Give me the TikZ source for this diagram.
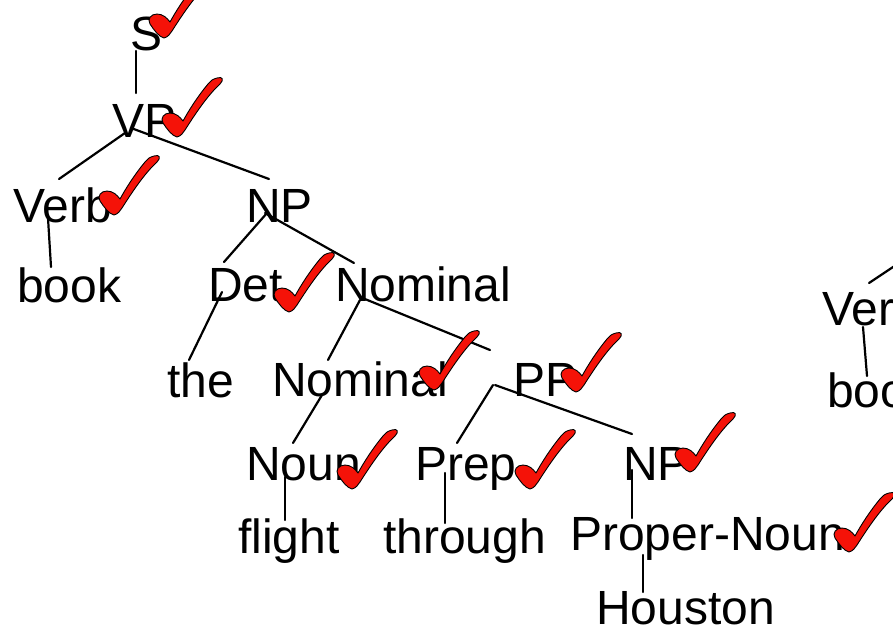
\documentclass[tikz,border=0pt]{standalone}
\usepackage{fontspec}
\setmainfont{Liberation Sans}
\usetikzlibrary{calc}
\definecolor{ckred}{RGB}{245,18,8}
\begin{document}
\begin{tikzpicture}[x=1pt,y=-1pt,
  lbl/.style={anchor=base west,inner sep=0pt,outer sep=0pt,font=\fontsize{48}{56}\selectfont},
  edge/.style={line width=2.2pt,line cap=round},
  checkmk/.pic={\filldraw[fill=ckred,draw=black,line width=0.9pt,line join=round]
    (0,1) .. controls (4,0) and (6,-3) .. (8,-6)
    .. controls (20,-25) and (32,-42) .. (43,-52)
    .. controls (47,-56) and (46,-60) .. (40,-58)
    .. controls (36,-57) and (33,-55) .. (31,-52)
    .. controls (21,-40) and (12,-26) .. (6,-15)
    .. controls (3,-19) and (-1,-23) .. (-7,-23)
    .. controls (-13,-23) and (-17,-18) .. (-14,-13)
    .. controls (-10,-7) and (-5,0) .. (0,1) -- cycle;}]
\useasboundingbox (0,0) rectangle (893,635);
\clip (0,0) rectangle (893,635);
% nodes
\node[lbl] (S) at (130,50) {S};
\node[lbl] (VP) at (112,137) {VP};
\node[lbl] (Verb) at (13,222) {Verb};
\node[lbl] (book) at (17,302) {book};
\node[lbl] (NP) at (246,222) {NP};
\node[lbl] (Det) at (208,301) {Det};
\node[lbl] (Nom1) at (335,301) {Nominal};
\node[lbl] (the) at (167,397) {the};
\node[lbl] (Nom2) at (272,396) {Nominal};
\node[lbl] (PP) at (513,396) {PP};
\node[lbl] (Noun) at (246,480) {Noun};
\node[lbl] (flight) at (238,553) {flight};
\node[lbl] (Prep) at (415,480) {Prep};
\node[lbl] (NP2) at (623,480) {NP};
\node[lbl] (through) at (383,553) {through};
\node[lbl] (PN) at (570,550) {Proper-Noun};
\node[lbl] (Houston) at (596,624) {Houston};
\node[lbl] (Ver) at (822,325) {Ver};
\node[lbl] (boo) at (827,407) {boo};
\coordinate (up) at (905,259);
% connectors
\draw[edge] ([shift={(6,1)}]S.base west) -- ([shift={(24,-44)}]VP.base west);
\draw[edge] ([shift={(13,-4)}]VP.base west) -- ([shift={(46,-43)}]Verb.base west);
\draw[edge] ([shift={(19,-9)}]VP.base west) -- ([shift={(23,-43)}]NP.base west);
\draw[edge] ([shift={(35,-4)}]Verb.base west) -- ([shift={(34,-35)}]book.base west);
\draw[edge] ([shift={(21,-9)}]NP.base west) -- ([shift={(16,-39)}]Det.base west);
\draw[edge] ([shift={(19,-9)}]NP.base west) -- ([shift={(19,-38)}]Nom1.base west);
\draw[edge] ([shift={(14,-9)}]Det.base west) -- ([shift={(22,-37)}]the.base west);
\draw[edge] ([shift={(25,-1)}]Nom1.base west) -- ([shift={(56,-36)}]Nom2.base west);
\draw[edge] ([shift={(25,-4)}]Nom1.base west) -- ([shift={(-23,-46)}]PP.base west);
\draw[edge] ([shift={(50,-1)}]Nom2.base west) -- ([shift={(47,-37)}]Noun.base west);
\draw[edge] ([shift={(-20,-11)}]PP.base west) -- ([shift={(42,-37)}]Prep.base west);
\draw[edge] ([shift={(-18,-11)}]PP.base west) -- ([shift={(9,-46)}]NP2.base west);
\draw[edge] ([shift={(39,-3)}]Noun.base west) -- ([shift={(47,-33)}]flight.base west);
\draw[edge] ([shift={(30,-7)}]Prep.base west) -- ([shift={(62,-30)}]through.base west);
\draw[edge] ([shift={(9,-10)}]NP2.base west) -- ([shift={(62,-32)}]PN.base west);
\draw[edge] ([shift={(73,5)}]PN.base west) -- ([shift={(47,-32)}]Houston.base west);
\draw[edge] ([shift={(47,-42)}]Ver.base west) -- (up);
\draw[edge] ([shift={(41,2)}]Ver.base west) -- ([shift={(40,-31)}]boo.base west);
% check marks
\pic at (164,37) {checkmk};
\pic at (177,136) {checkmk};
\pic at (114,214) {checkmk};
\pic at (289,311) {checkmk};
\pic at (434,389) {checkmk};
\pic at (576,391) {checkmk};
\pic at (352,488) {checkmk};
\pic at (530,488) {checkmk};
\pic at (690,471) {checkmk};
\pic at (849,551) {checkmk};
\end{tikzpicture}
\end{document}
